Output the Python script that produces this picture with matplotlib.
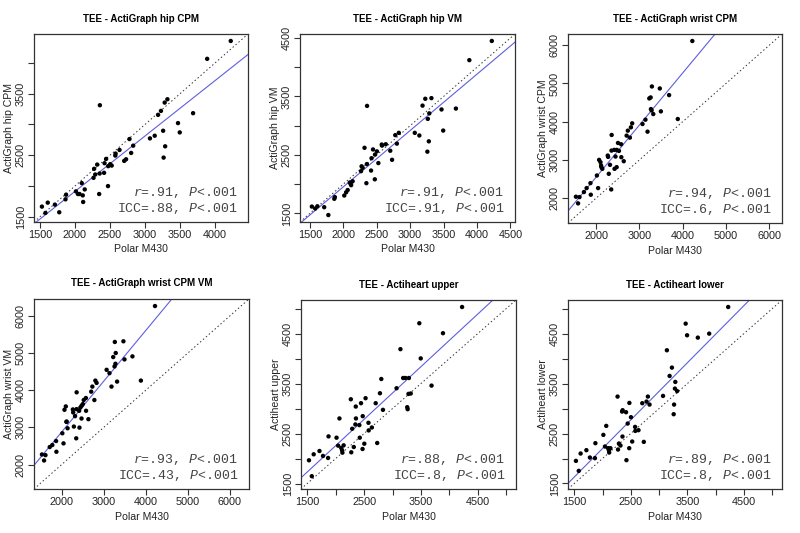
import numpy as np
import matplotlib
matplotlib.use("Agg")
import matplotlib.pyplot as plt

plt.rcParams['font.family'] = ['Liberation Sans', 'DejaVu Sans']
plt.rcParams['mathtext.fontset'] = 'custom'
plt.rcParams['mathtext.it'] = 'Liberation Mono:italic'
plt.rcParams['mathtext.rm'] = 'Liberation Mono'

# Polar M430 TEE (common x for all panels)
polar = [1530, 1580, 1613, 1715, 1777, 1866, 1874, 2015, 2043, 2066, 2098, 2112, 2118, 2140,
         2266, 2274, 2290, 2318, 2346, 2353, 2356, 2416, 2423, 2445, 2472, 2475, 2503, 2525,
         2576, 2580, 2636, 2703, 2730, 2778, 2802, 2831, 3070, 3138, 3186, 3227, 3258, 3265,
         3280, 3287, 3319, 3470, 3495, 3685, 3886, 4222]

hip_cpm = [1667, 1565, 1731, 1699, 1575, 1785, 1860, 1914, 1871, 1871, 2048, 1849, 1742, 1946,
           2134, 2280, 2188, 2349, 1871, 2204, 3312, 2215, 2371, 2441, 2000, 2323, 2355, 2333,
           2495, 2527, 2586, 2409, 2435, 2763, 2538, 2656, 2774, 2817, 3156, 3220, 2898, 2462,
           3355, 2645, 3409, 3022, 2871, 3183, 4065, 4355]

hip_vm = [1617, 1583, 1622, 1606, 1472, 1750, 1778, 1806, 1861, 1900, 2028, 2000, 1983, 2050,
          2222, 2306, 2280, 2622, 2017, 2344, 3339, 2233, 2444, 2594, 2083, 2506, 2561, 2361,
          2678, 2660, 2683, 2572, 2417, 2839, 2694, 2878, 2878, 2833, 3344, 3461, 2556, 3117,
          2733, 3211, 3472, 3278, 2917, 3294, 4122, 4450]

wrist_cpm = [2035, 1861, 2026, 2157, 2261, 2391, 2087, 2591, 2261, 3000, 2939, 2852, 2809, 2765,
             3113, 3078, 2635, 2870, 2226, 3243, 3652, 3261, 2765, 3087, 2809, 3261, 3443, 3235,
             3409, 3070, 2965, 3635, 3765, 3583, 3852, 3957, 3939, 4052, 3739, 4609, 4635, 4330,
             4296, 4922, 4200, 4870, 4270, 4696, 4070, 6113]

wrist_vm = [2271, 2109, 2253, 2471, 2525, 2633, 2344, 2842, 2570, 3475, 3566, 3149, 3158, 2977,
            3484, 3403, 3023, 3303, 2706, 3493, 3946, 3448, 2995, 3538, 3240, 3584, 3629, 3738,
            3792, 3448, 3222, 3964, 4100, 3738, 4262, 4200, 4552, 4462, 4100, 4896, 4643, 5303,
            4715, 5005, 4235, 5321, 4833, 4914, 4262, 6271]

ah_upper = [1964, 1646, 2084, 2150, 2051, 2011, 2442, 2416, 2257, 2801, 2210, 2164, 2117, 2263,
            3185, 2124, 2595, 2230, 2681, 3039, 2801, 2668, 2416, 3106, 2190, 2847, 2296, 3206,
            2714, 2562, 2620, 3106, 2310, 3305, 3590, 2973, 3405, 4187, 3610, 3610, 3026, 2986,
            3292, 3610, 3300, 4705, 4002, 3458, 4506, 5030]

ah_lower = [1953, 1753, 2100, 2167, 2020, 2007, 2307, 2473, 2240, 2653, 2207, 2167, 2120, 2207,
            3240, 2180, 2300, 2260, 2940, 2440, 2967, 2927, 1967, 2700, 2207, 3113, 2827, 2340,
            2633, 2553, 2567, 3107, 2333, 3140, 3240, 3080, 3253, 4167, 3653, 3820, 2887, 3080,
            3400, 3533, 3350, 4700, 4467, 4420, 4500, 5033]

titles = ["TEE - ActiGraph hip CPM", "TEE - ActiGraph hip VM", "TEE - ActiGraph wrist CPM",
          "TEE - ActiGraph wrist CPM VM", "TEE - Actiheart upper", "TEE - Actiheart lower"]
ylabels = ["ActiGraph hip CPM", "ActiGraph hip VM", "ActiGraph wrist CPM",
           "ActiGraph wrist VM", "Actiheart upper", "Actiheart lower"]
r_text = [".91", ".91", ".94", ".93", ".88", ".89"]
icc_text = [".88", ".91", ".6", ".43", ".8", ".8"]
xlabel = "Polar M430"

series = [hip_cpm, hip_vm, wrist_cpm, wrist_vm, ah_upper, ah_lower]

# ticks: (tick values, labelled x values, labelled y values)
tick_specs = [
    (list(range(1500, 4001, 500)), list(range(1500, 4001, 500)), [1500, 2500, 3500]),
    (list(range(1500, 4501, 500)), list(range(1500, 4501, 500)), [1500, 2500, 3500, 4500]),
    (list(range(2000, 6001, 1000)), list(range(2000, 6001, 1000)), list(range(2000, 6001, 1000))),
    (list(range(2000, 6001, 1000)), list(range(2000, 6001, 1000)), list(range(2000, 6001, 1000))),
    (list(range(1500, 5001, 500)), [1500, 2500, 3500, 4500], [1500, 2500, 3500, 4500]),
    (list(range(1500, 5001, 500)), [1500, 2500, 3500, 4500], [1500, 2500, 3500, 4500]),
]

W, H = 800, 533
fig = plt.figure(figsize=(8, 5.33), dpi=100)
boxes = [(34, 34, 214, 188), (300, 34, 215, 188), (568, 34, 214, 189),
         (34, 299, 215, 190), (301, 300, 215, 189), (568, 300, 214, 189)]

txt_col = '#222222'
x = np.array(polar, dtype=float)
for i, (l, t, w, h) in enumerate(boxes):
    ax = fig.add_axes([l / W, 1 - (t + h) / H, w / W, h / H])
    y = np.array(series[i], dtype=float)
    lo = min(x.min(), y.min())
    hi = max(x.max(), y.max())
    ext = 0.04 * (hi - lo)
    lim = (lo - ext, hi + ext)
    ax.set_xlim(lim)
    ax.set_ylim(lim)
    ax.plot(lim, lim, linestyle=(0, (1.5, 2.5)), color='#333333', lw=0.7, zorder=1)
    b, a = np.polyfit(x, y, 1)
    xx = np.array(lim)
    ax.plot(xx, a + b * xx, color='#5e5ee0', lw=0.8, zorder=2)
    ax.scatter(x, y, s=10, color='black', edgecolors='none', zorder=3)

    ticks, xlab_vals, ylab_vals = tick_specs[i]
    ax.set_xticks(ticks)
    ax.set_xticklabels([str(v) if v in xlab_vals else '' for v in ticks])
    ax.set_yticks(ticks)
    ax.set_yticklabels([str(v) if v in ylab_vals else '' for v in ticks],
                       rotation=90, va='center')
    ax.tick_params(length=4, width=0.8, pad=2, labelsize=7.8, colors='#333333',
                   labelcolor=txt_col)
    for sp in ax.spines.values():
        sp.set_color('#333333')
        sp.set_linewidth(0.9)
    ax.set_xlabel(xlabel, fontsize=7.6, color=txt_col, labelpad=3)
    ax.set_ylabel(ylabels[i], fontsize=7.6, color=txt_col)
    ax.yaxis.set_label_coords(-20.0 / w, 0.5)
    ax.set_title(titles[i], fontsize=7.0, fontweight='bold', pad=9, color='black')

    ax.text(0.95, 0.155, r"$r$=" + r_text[i] + r", $P$<.001", transform=ax.transAxes,
            ha='right', va='center', fontsize=9.5, family='Liberation Mono', color='#444444')
    ax.text(0.95, 0.07, r"ICC=" + icc_text[i] + r", $P$<.001", transform=ax.transAxes,
            ha='right', va='center', fontsize=9.5, family='Liberation Mono', color='#444444')

fig.savefig("out.png", dpi=100)
